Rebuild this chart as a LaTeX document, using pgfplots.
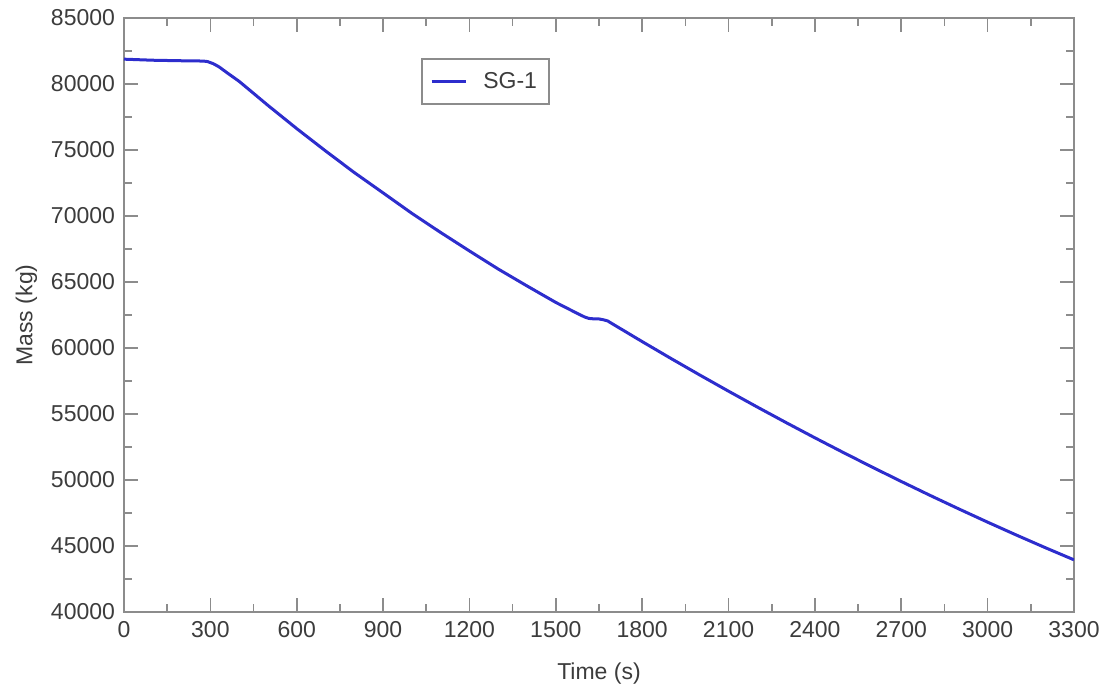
\documentclass[border=0pt]{standalone}
\usepackage{fontspec}
\setmainfont{Liberation Sans}
\usepackage{pgfplots}
\pgfplotsset{compat=1.18}
\definecolor{sgblue}{RGB}{45,45,205}
\definecolor{framegray}{RGB}{140,140,140}
\definecolor{txtgray}{RGB}{60,60,60}
\begin{document}
\begin{tikzpicture}
\begin{axis}[
    scale only axis,
    width=475pt, height=297pt,
    xmin=0, xmax=3300,
    ymin=40000, ymax=85000,
    xtick={0,300,...,3300},
    ytick={40000,45000,...,85000},
    minor x tick num=1,
    minor y tick num=1,
    tick align=inside,
    major tick length=7pt,
    minor tick length=4pt,
    axis line style={framegray, line width=1.3pt},
    every tick/.style={framegray, line width=0.8pt},
    scaled ticks=false,
    /pgf/number format/assume math mode=true,
    xticklabel={\pgfmathprintnumber[fixed,1000 sep={}]{\tick}},
    yticklabel={\pgfmathprintnumber[fixed,1000 sep={}]{\tick}},
    ticklabel style={font=\fontsize{11.5}{13}\selectfont, text=txtgray},
    xticklabel style={yshift=-1pt},
    yticklabel style={xshift=-1pt},
    label style={font=\fontsize{11.5}{13}\selectfont, text=txtgray},
    xlabel={Time (s)},
    xlabel style={yshift=-6pt},
    ylabel={Mass (kg)},
    legend style={at={(0.313,0.932)}, anchor=north west,
        draw=framegray, line width=0.8pt,
        font=\fontsize{11.5}{13}\selectfont, text=txtgray,
        column sep=6pt,
        inner xsep=4pt, inner ysep=4.5pt},
    legend cell align=left,
]
\addplot[sgblue, line width=1.5pt] coordinates {
    (0,81880) (100,81800) (200,81760) (260,81745) (280,81725)
    (290,81700) (310,81540) (330,81300) (360,80820) (400,80200)
    (500,78380) (600,76620) (700,74930) (800,73290) (900,71750)
    (1000,70200) (1100,68750) (1200,67350) (1300,65980) (1400,64700)
    (1500,63450) (1580,62560) (1600,62350) (1615,62240) (1630,62210)
    (1650,62200) (1665,62140) (1680,62050) (1700,61786) (1800,60484)
    (1900,59206) (2000,57954) (2100,56727) (2200,55524) (2300,54347)
    (2400,53194) (2500,52067) (2600,50964) (2700,49887) (2800,48834)
    (2900,47807) (3000,46804) (3100,45827) (3200,44874) (3300,43950)
};
\addlegendentry{SG-1}
\end{axis}
\path (current axis.south west) ++(-62pt,-38pt) coordinate (bl);
\path (current axis.north east) ++(19pt,9pt) coordinate (tr);
\path (bl) rectangle (tr);
\end{tikzpicture}
\end{document}
